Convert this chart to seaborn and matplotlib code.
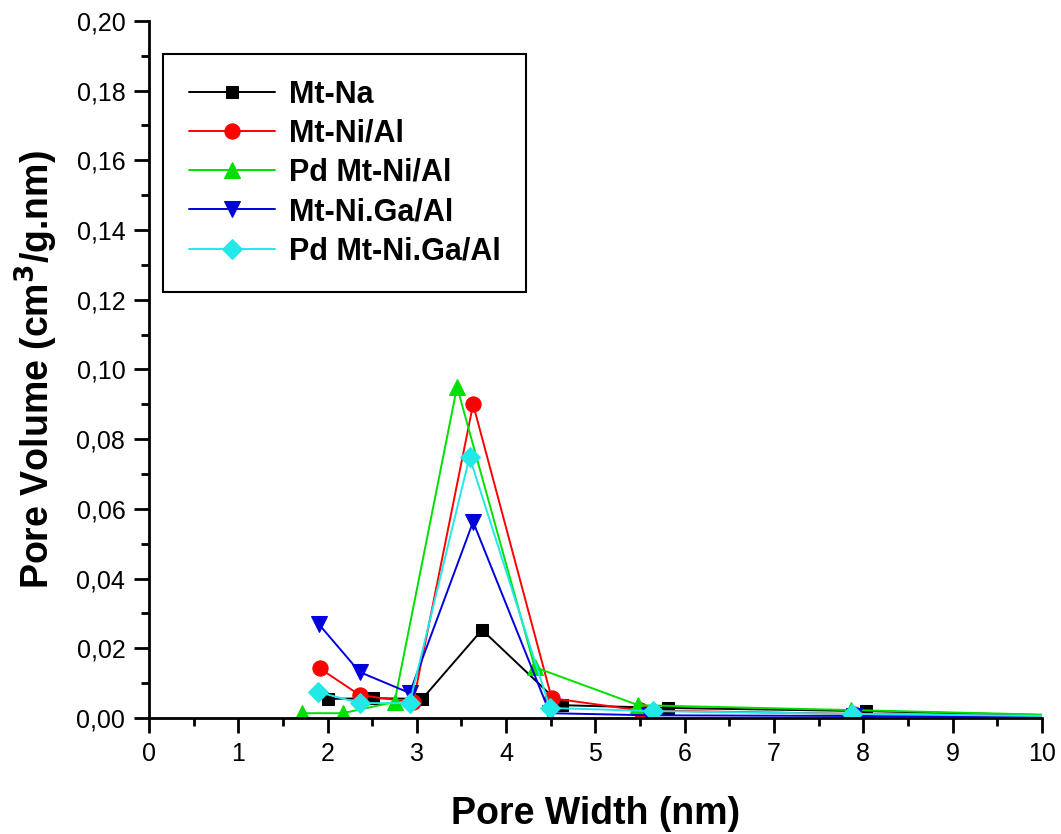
import matplotlib
matplotlib.use("Agg")
import matplotlib.pyplot as plt
import seaborn as sns
import numpy as np
import pandas as pd
from matplotlib.ticker import MultipleLocator, FuncFormatter

# ---- data ----
labels = ["Mt-Na", "Mt-Ni/Al", "Pd Mt-Ni/Al", "Mt-Ni.Ga/Al", "Pd Mt-Ni.Ga/Al"]

x_mtna = [2.00, 2.51, 3.06, 3.73, 4.62, 5.81, 8.03, 10.8]
y_mtna = [0.0055, 0.0057, 0.0055, 0.0253, 0.0037, 0.0029, 0.0020, 0.0004]

x_mtnial = [1.91, 2.36, 2.96, 3.63, 4.51, 5.50, 7.90, 10.8]
y_mtnial = [0.0143, 0.0066, 0.0045, 0.0900, 0.0057, 0.0022, 0.0012, 0.0004]

x_pdnial = [1.71, 2.17, 2.75, 3.45, 4.32, 5.48, 7.86, 10.8]
y_pdnial = [0.0014, 0.0014, 0.0046, 0.0950, 0.0146, 0.0037, 0.0023, 0.0005]

x_mtniga = [1.90, 2.36, 2.92, 3.63, 4.49, 5.60, 7.90, 10.8]
y_mtniga = [0.0270, 0.0132, 0.0072, 0.0563, 0.0014, 0.0008, 0.0006, 0.0003]

x_pdniga = [1.89, 2.36, 2.92, 3.59, 4.49, 5.64, 7.87, 10.8]
y_pdniga = [0.0075, 0.0043, 0.0043, 0.0749, 0.0029, 0.0020, 0.0012, 0.0004]

xs = [x_mtna, x_mtnial, x_pdnial, x_mtniga, x_pdniga]
ys = [y_mtna, y_mtnial, y_pdnial, y_mtniga, y_pdniga]

colors = ["#000000", "#ff0000", "#00e000", "#0000dd", "#22e8e8"]
markers = ["s", "o", "^", "v", "D"]
msizes = [9, 11, 12, 12, 10]

x_ticks = list(range(0, 11))
y_ticks = [0.00, 0.02, 0.04, 0.06, 0.08, 0.10, 0.12, 0.14, 0.16, 0.18, 0.20]

# ---- plot ----
sns.set_style("ticks")
plt.rcParams["font.family"] = ["Liberation Sans", "DejaVu Sans"]
plt.rcParams["text.color"] = "black"
plt.rcParams["axes.labelcolor"] = "black"
plt.rcParams["xtick.color"] = "black"
plt.rcParams["ytick.color"] = "black"

fig = plt.figure(figsize=(10.61, 8.34), dpi=100)
ax = fig.add_axes([0.1404, 0.139, 0.8416, 0.836])

for xv, yv, lab, c, m, ms in zip(xs, ys, labels, colors, markers, msizes):
    df = pd.DataFrame({"x": xv, "y": yv})
    sns.lineplot(data=df, x="x", y="y", ax=ax, sort=False, estimator=None,
                 color=c, marker=m, markersize=ms, markeredgecolor=c,
                 linewidth=1.4, label=lab)

ax.set_xlim(0, 10)
ax.set_ylim(0, 0.20)
ax.set_xticks(x_ticks)
ax.set_yticks(y_ticks)
ax.xaxis.set_minor_locator(MultipleLocator(0.5))
ax.yaxis.set_minor_locator(MultipleLocator(0.01))
ax.yaxis.set_major_formatter(FuncFormatter(lambda v, p: f"{v:.2f}".replace(".", ",")))
ax.xaxis.set_major_formatter(FuncFormatter(lambda v, p: f"{v:g}"))

for s in ["top", "right"]:
    ax.spines[s].set_visible(False)
for s in ["left", "bottom"]:
    ax.spines[s].set_linewidth(2)
    ax.spines[s].set_color("black")

ax.tick_params(axis="both", which="major", length=11, width=2, direction="out",
               labelsize=18, color="black", labelcolor="black", pad=6)
ax.tick_params(axis="both", which="minor", length=6, width=2, direction="out",
               color="black")

ax.set_xlabel("Pore Width (nm)", fontsize=27, fontweight="bold", labelpad=22, color="black")
ax.set_ylabel("Pore Volume (cm$^\\mathbf{3}$/g.nm)", fontsize=27, fontweight="bold",
              labelpad=12, color="black")

leg = ax.legend(loc="upper left", bbox_to_anchor=(0.016, 0.953), frameon=True,
                fancybox=False, edgecolor="black", prop={"weight": "bold", "size": 22},
                handlelength=2.8, labelspacing=0.3, borderpad=0.85, handletextpad=0.45,
                borderaxespad=0)
leg.get_frame().set_linewidth(1.5)
leg.get_frame().set_alpha(1)
for t in leg.get_texts():
    t.set_color("black")

fig.savefig("out.png", dpi=100, facecolor="white")
